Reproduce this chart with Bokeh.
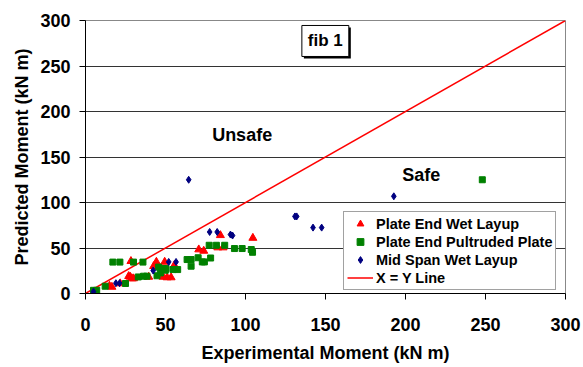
from bokeh.plotting import figure
from bokeh.models import Range1d, Label, FixedTicker, Legend
from bokeh.embed import file_html
from bokeh.resources import INLINE

# Plate End Wet Layup
wet_x = [15, 16.5, 21.7, 27, 28, 29, 30, 28.4, 39.5, 42.6, 44.3, 49.5, 55.5, 48.5, 51, 53.5, 70.8, 73.9, 82.7, 86, 84.3, 104.6]
wet_y = [8.3, 7.2, 11, 19, 18.2, 16.5, 16.5, 35.5, 18.2, 30, 34.7, 34.7, 31, 18.2, 17.6, 17.6, 48.3, 46.8, 50.5, 50.5, 64, 61]

# Plate End Pultruded Plate
pul_x = [5, 7, 12.3, 17.1, 21.5, 30, 35.9, 25, 33, 36.3, 38.4, 44.7, 45.7, 46.8, 48.5, 49.9, 50.3, 54.7, 57.6,
         63.5, 66, 66, 70.4, 73, 74.3, 78.2, 77.3, 81.8, 87, 93.1, 97.9, 103.6, 104.4, 248]
pul_y = [3.5, 3.5, 8, 34.5, 34.5, 34.5, 34.5, 11, 18.2, 19, 19, 19.5, 29, 22.6, 27.4, 25.6, 27.4, 26.3, 26.3,
         37.3, 37.3, 30, 39.3, 34.7, 34.7, 39, 53, 53, 53, 49.4, 49.4, 48.3, 45.3, 125]

# Mid Span Wet Layup
mid_x = [5, 19, 21.3, 42.3, 52, 56.6, 64.5, 77.6, 82.3, 90.6, 91.9, 130.9, 132, 142.2, 147.6, 192.7]
mid_y = [2, 11.3, 11.3, 25.2, 34.7, 34.7, 125, 67.6, 67.6, 64.8, 63.7, 84.7, 84.7, 72.4, 72.4, 106.8]

# X = Y line
line_x = [0, 300]
line_y = [0, 300]

ticks = [0, 50, 100, 150, 200, 250, 300]

FONT = "Liberation Sans"

p = figure(width=583, height=367, output_backend="svg", toolbar_location=None,
           x_range=Range1d(0, 300), y_range=Range1d(0, 300),
           min_border_left=85, min_border_right=18, min_border_top=20, min_border_bottom=74)

p.outline_line_color = "#888888"
p.xgrid.grid_line_color = None
p.ygrid.grid_line_color = "#333333"
p.ygrid.grid_line_width = 1
p.ygrid.ticker = FixedTicker(ticks=[50, 100, 150, 200, 250, 300])

for ax in (p.xaxis, p.yaxis):
    ax.ticker = FixedTicker(ticks=ticks)
    ax.axis_line_color = "black"
    ax.major_tick_line_color = "black"
    ax.minor_tick_line_color = None
    ax.major_tick_in = 0
    ax.major_tick_out = 6
    ax.major_label_text_font = FONT
    ax.major_label_text_font_style = "bold"
    ax.major_label_text_font_size = "18px"
    ax.major_label_text_color = "black"
    ax.axis_label_text_font = FONT
    ax.axis_label_text_font_style = "bold"
    ax.axis_label_text_font_size = "18px"
    ax.axis_label_text_color = "black"

p.xaxis.axis_label = "Experimental Moment (kN m)"
p.yaxis.axis_label = "Predicted Moment (kN m)"
p.xaxis.major_label_standoff = 18
p.xaxis.axis_label_standoff = 9
p.yaxis.major_label_standoff = 9
p.yaxis.axis_label_standoff = 5

r_line = p.line(line_x, line_y, line_color="red", line_width=1.5)
r_wet = p.scatter(wet_x, wet_y, marker="triangle", size=8, fill_color="red", line_color="red")
r_pul = p.scatter(pul_x, pul_y, marker="square", size=6, fill_color="green", line_color="green")
r_mid = p.scatter(mid_x, mid_y, marker="diamond", size=7, fill_color="navy", line_color="navy")

legend = Legend(items=[("Plate End Wet Layup", [r_wet]),
                       ("Plate End Pultruded Plate", [r_pul]),
                       ("Mid Span Wet Layup", [r_mid]),
                       ("X = Y Line", [r_line])],
                location=(258, 3))
legend.label_text_font = FONT
legend.label_text_font_style = "bold"
legend.label_text_font_size = "14.5px"
legend.label_text_color = "black"
legend.border_line_color = "#444444"
legend.border_line_width = 1
legend.background_fill_alpha = 1
legend.glyph_width = 26
legend.glyph_height = 17
legend.label_height = 17
legend.spacing = 1
legend.padding = 3
legend.margin = 0
legend.label_standoff = 3
p.add_layout(legend)

p.add_layout(Label(x=97.9, y=173.8, text="Unsafe", text_font=FONT, text_font_style="bold",
                   text_font_size="18px", text_align="center", text_baseline="middle",
                   text_color="black"))
p.add_layout(Label(x=209.9, y=129.9, text="Safe", text_font=FONT, text_font_style="bold",
                   text_font_size="18px", text_align="center", text_baseline="middle",
                   text_color="black"))

# fib 1 box with shadow
p.add_layout(Label(x=149.9, y=277.5, x_offset=2, y_offset=-2, text="fib 1", text_font=FONT,
                   text_font_style="bold", text_font_size="17px", text_align="center",
                   text_baseline="middle", text_color="black", background_fill_color="black",
                   padding=6))
p.add_layout(Label(x=149.9, y=277.5, text="fib 1", text_font=FONT,
                   text_font_style="bold", text_font_size="17px", text_align="center",
                   text_baseline="middle", text_color="black", background_fill_color="white",
                   border_line_color="black", border_line_width=1, padding=6))

open("out.html", "w").write(file_html(p, INLINE))
